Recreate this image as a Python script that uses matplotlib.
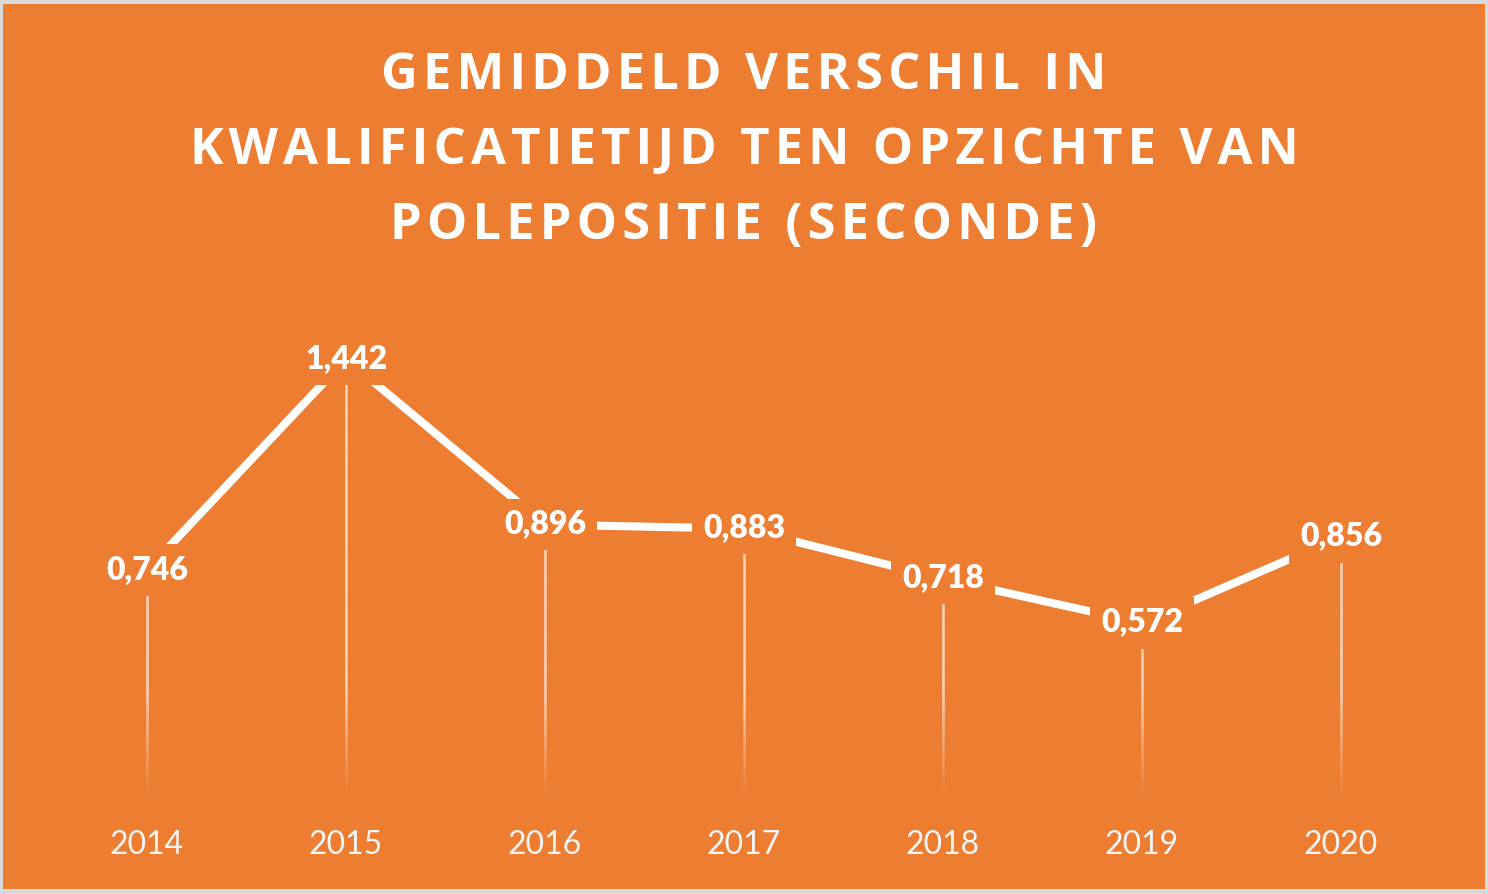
import matplotlib
matplotlib.use('Agg')
import matplotlib.pyplot as plt
from matplotlib.patches import Rectangle
from matplotlib.collections import LineCollection
import numpy as np

years = ['2014', '2015', '2016', '2017', '2018', '2019', '2020']
values = [0.746, 1.442, 0.896, 0.883, 0.718, 0.572, 0.856]
labels = ['0,746', '1,442', '0,896', '0,883', '0,718', '0,572', '0,856']
title_lines = ['GEMIDDELD VERSCHIL IN',
               'KWALIFICATIETIJD TEN OPZICHTE VAN',
               'POLEPOSITIE (SECONDE)']

orange = '#ED7D31'
W, H = 1488, 894

fig = plt.figure(figsize=(W / 100, H / 100), dpi=100)
fig.patch.set_facecolor('#D9D9D9')
fig.patches.append(Rectangle((3 / W, 5 / H), 1482 / W, 885 / H, transform=fig.transFigure,
                             facecolor=orange, edgecolor='none', zorder=-5))

# axes: categories 199 px apart, value 0 at y=796 px
ax = fig.add_axes([47.5 / W, 1 - 796.5 / H, 1393 / W, (796.5 - 300) / H])
ax.set_zorder(2)
ax.set_facecolor('none')
x = np.arange(len(years))
ax.set_xlim(-0.5, len(years) - 0.5)
ax.set_ylim(0, (796.5 - 300) / 303.4)
for s in ax.spines.values():
    s.set_visible(False)
ax.set_yticks([])
ax.set_xticks(x, years)
ax.tick_params(axis='x', length=0, pad=24, labelsize=23, labelcolor='#F5F5F5')
for t in ax.get_xticklabels():
    t.set_family('Lato')

# drop lines fading towards the bottom
for xi, v in zip(x, values):
    ys = np.linspace(0, v, 60)
    segs = [[(xi, ys[k]), (xi, ys[k + 1])] for k in range(len(ys) - 1)]
    a = np.clip((ys[:-1] / 0.35), 0, 1) * 0.7
    cols = [(1, 1, 1, aa) for aa in a]
    ax.add_collection(LineCollection(segs, colors=cols, linewidths=1.8, zorder=1))

ax.plot(x, values, color='white', lw=5.8, solid_capstyle='butt', zorder=2)

for xi, v, lab in zip(x, values, labels):
    ax.text(xi, v, lab, ha='center', va='center', fontsize=23, fontweight='heavy',
            family='Lato', color='white', zorder=3,
            bbox=dict(boxstyle='square,pad=0.35', facecolor=orange, edgecolor='none'))

# letter-spaced title
for i, line in enumerate(title_lines):
    spaced = '\u200a'.join(line)
    fig.text(0.5, 1 - (76 + 75 * i) / H, spaced, ha='center', va='center',
             fontsize=36.5, fontweight='bold', family=['Open Sans', 'DejaVu Sans'],
             color='white')

fig.savefig('out.png', dpi=100, facecolor=fig.get_facecolor())
